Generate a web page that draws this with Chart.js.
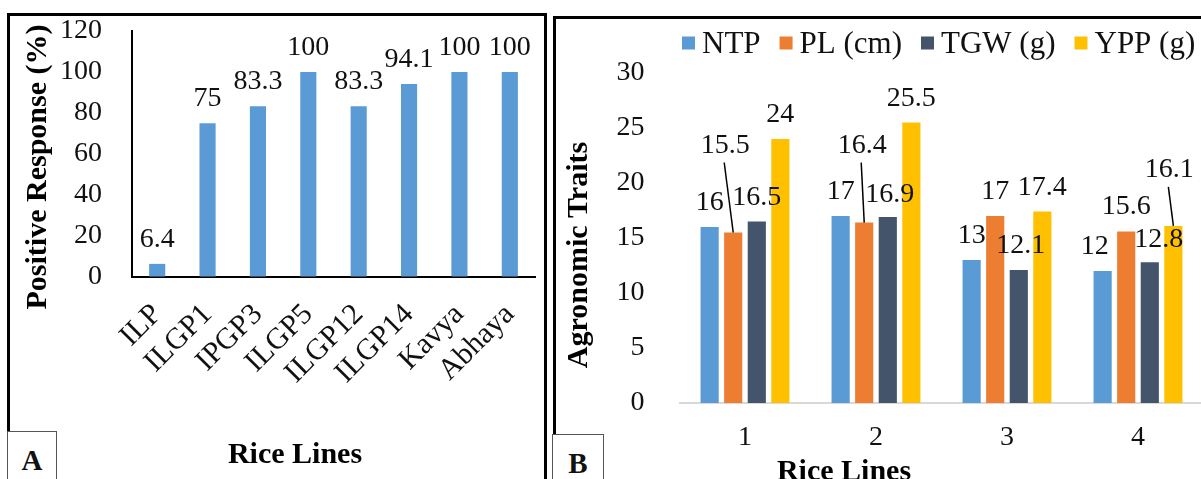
<!DOCTYPE html>
<html>
<head>
<meta charset="utf-8">
<script src="https://cdn.jsdelivr.net/npm/chart.js@4.4.1/dist/chart.umd.min.js"></script>
<style>
    html, body { margin: 0; padding: 0; background: #fff; overflow: hidden; width: 1201px; height: 479px; position: relative; }
    #chartA { position: absolute; left: 0; top: 0; }
    #chartB { position: absolute; left: 548px; top: 0; }
    .frame { position: absolute; border: 3px solid #000; box-sizing: border-box; }
    .tag { position: absolute; background: #fff; border: 1px solid #555; box-sizing: border-box;
           font: bold 29px 'Liberation Serif', serif; text-align: center; line-height: 56px; color: #111; }
</style>
</head>
<body>
<canvas id="chartA" width="548" height="479"></canvas>
<canvas id="chartB" width="660" height="479"></canvas>
<div class="frame" style="left:7px;top:13px;width:540px;height:520px;"></div>
<div class="frame" style="left:553px;top:16px;width:700px;height:520px;"></div>
<div class="tag" style="left:7px;top:431px;width:50px;height:80px;">A</div>
<div class="tag" style="left:552px;top:434px;width:52px;height:80px;">B</div>
<script>
// panel A data
const linesA = ['ILP', 'ILGP1', 'IPGP3', 'ILGP5', 'ILGP12', 'ILGP14', 'Kavya', 'Abhaya'];
const responseA = [6.4, 75, 83.3, 100, 83.3, 94.1, 100, 100];
const yTicksA = [0, 20, 40, 60, 80, 100, 120];

// panel B data
const linesB = ['1', '2', '3', '4'];
const traitNames = ['NTP', 'PL (cm)', 'TGW (g)', 'YPP (g)'];
const ntp = [16, 17, 13, 12];
const pl = [15.5, 16.4, 17, 15.6];
const tgw = [16.5, 16.9, 12.1, 12.8];
const ypp = [24, 25.5, 17.4, 16.1];
const yTicksB = [0, 5, 10, 15, 20, 25, 30];

const serif = "'Liberation Serif', 'Times New Roman', serif";
const textColor = '#111';

// value labels above bars, some moved up with a leader line (like Excel)
const valueLabels = {
    id: 'valueLabels',
    afterDatasetsDraw (chart, args, opts) {
        const ctx = chart.ctx;
        ctx.save();
        ctx.font = opts.size + 'px ' + serif;
        ctx.fillStyle = textColor;
        ctx.textAlign = 'center';
        ctx.textBaseline = 'alphabetic';
        chart.data.datasets.forEach((ds, i) => {
            chart.getDatasetMeta(i).data.forEach((bar, j) => {
                let off = (opts.offsets && opts.offsets[i] && opts.offsets[i][j]) || [0, 0];
                let x = bar.x + off[0];
                let y = bar.y - opts.gap + off[1];
                ctx.fillText(String(ds.data[j]), x, y);
                if (off[1] < -20) {
                    ctx.strokeStyle = '#000';
                    ctx.lineWidth = 1.5;
                    ctx.beginPath();
                    ctx.moveTo(x - 1, y + 10);
                    ctx.lineTo(bar.x, bar.y);
                    ctx.stroke();
                }
            });
        });
        ctx.restore();
    }
};

// axis titles placed where the original figure has them
const freeTitles = {
    id: 'freeTitles',
    afterDraw (chart, args, opts) {
        const ctx = chart.ctx;
        ctx.save();
        ctx.font = 'bold ' + opts.size + 'px ' + serif;
        ctx.fillStyle = '#000';
        ctx.textAlign = 'center';
        ctx.textBaseline = 'alphabetic';
        opts.items.forEach(t => {
            ctx.save();
            ctx.translate(t.x, t.y);
            if (t.rotate) ctx.rotate(-Math.PI / 2);
            ctx.fillText(t.text, 0, 0);
            ctx.restore();
        });
        ctx.restore();
    }
};

// legend row with small squares
const squareLegend = {
    id: 'squareLegend',
    afterDraw (chart, args, opts) {
        const ctx = chart.ctx;
        ctx.save();
        ctx.font = opts.size + 'px ' + serif;
        ctx.textBaseline = 'middle';
        ctx.textAlign = 'left';
        let x = opts.x;
        chart.data.datasets.forEach(ds => {
            ctx.fillStyle = ds.backgroundColor;
            ctx.fillRect(x, opts.y - opts.box / 2, opts.box, opts.box);
            x += opts.box + opts.gap;
            ctx.fillStyle = textColor;
            ctx.fillText(ds.label, x, opts.y + 2);
            x += ctx.measureText(ds.label).width + opts.spacing;
        });
        ctx.restore();
    }
};

function fixX (h) {
    return s => { s.height = h; s.paddingLeft = 0; s.paddingRight = 0; };
}
function fixY (w) {
    return s => { s.width = w; s.paddingTop = 0; s.paddingBottom = 0; };
}

let chartA = new Chart(document.getElementById('chartA'), {
    type: 'bar',
    data: {
        labels: linesA,
        datasets: [{
            label: 'Positive Response (%)',
            data: responseA,
            backgroundColor: '#5B9BD5',
            categoryPercentage: 1,
            barPercentage: 0.32
        }]
    },
    options: {
        responsive: false,
        animation: false,
        layout: {autoPadding: false, padding: {left: 0, right: 13, top: 31, bottom: 0}},
        plugins: {
            legend: {display: false},
            tooltip: {enabled: false},
            valueLabels: {size: 28, gap: 17},
            freeTitles: {size: 30, items: [
                {text: 'Positive Response (%)', x: 46, y: 167, rotate: true},
                {text: 'Rice Lines', x: 295, y: 463}
            ]}
        },
        scales: {
            x: {
                grid: {display: true, drawOnChartArea: false, drawTicks: false},
                border: {color: '#000', width: 2},
                ticks: {font: {family: serif, size: 30}, color: textColor, minRotation: 45, maxRotation: 45,
                    autoSkip: false, padding: 20},
                afterFit: fixX(202)
            },
            y: {
                min: yTicksA[0],
                max: yTicksA[yTicksA.length - 1],
                grid: {display: true, drawOnChartArea: false, drawTicks: false},
                border: {color: '#000', width: 2},
                ticks: {stepSize: yTicksA[1] - yTicksA[0], font: {family: serif, size: 28}, color: textColor, padding: 30},
                afterFit: fixY(132)
            }
        }
    },
    plugins: [valueLabels, freeTitles]
});

let colorsB = ['#5B9BD5', '#ED7D31', '#44546A', '#FFC000'];
let seriesB = [ntp, pl, tgw, ypp];

let chartB = new Chart(document.getElementById('chartB'), {
    type: 'bar',
    data: {
        labels: linesB,
        datasets: seriesB.map((vals, i) => ({
            label: traitNames[i],
            data: vals,
            backgroundColor: colorsB[i],
            categoryPercentage: 0.72,
            barPercentage: 0.77
        }))
    },
    options: {
        responsive: false,
        animation: false,
        layout: {autoPadding: false, padding: {left: 0, right: 4.5, top: 73, bottom: 0}},
        plugins: {
            legend: {display: false},
            tooltip: {enabled: false},
            valueLabels: {size: 28, gap: 17, offsets: [
                [[0, 0], [0, 0], [0, 0], [-8, 0]],
                [[-8, -63], [-2, -53], [0, 0], [0, 0]],
                [[0, 0], [2, 2], [2, 0], [9, 2]],
                [[0, 0], [0, 0], [0, 0], [-4, -32]]
            ]},
            squareLegend: {size: 31, x: 134, y: 43, box: 13, gap: 7, spacing: 19},
            freeTitles: {size: 30, items: [
                {text: 'Agronomic Traits', x: 39, y: 255, rotate: true},
                {text: 'Rice Lines', x: 296, y: 480}
            ]}
        },
        scales: {
            x: {
                grid: {display: true, drawOnChartArea: false, drawTicks: false},
                border: {color: '#D9D9D9', width: 2},
                ticks: {font: {family: serif, size: 28}, color: textColor, padding: 18},
                afterFit: fixX(76)
            },
            y: {
                min: yTicksB[0],
                max: yTicksB[yTicksB.length - 1],
                grid: {display: false},
                border: {display: false},
                ticks: {stepSize: yTicksB[1] - yTicksB[0], font: {family: serif, size: 28}, color: textColor, padding: 27},
                afterFit: fixY(131.5)
            }
        }
    },
    plugins: [valueLabels, freeTitles, squareLegend]
});
</script>
</body>
</html>
